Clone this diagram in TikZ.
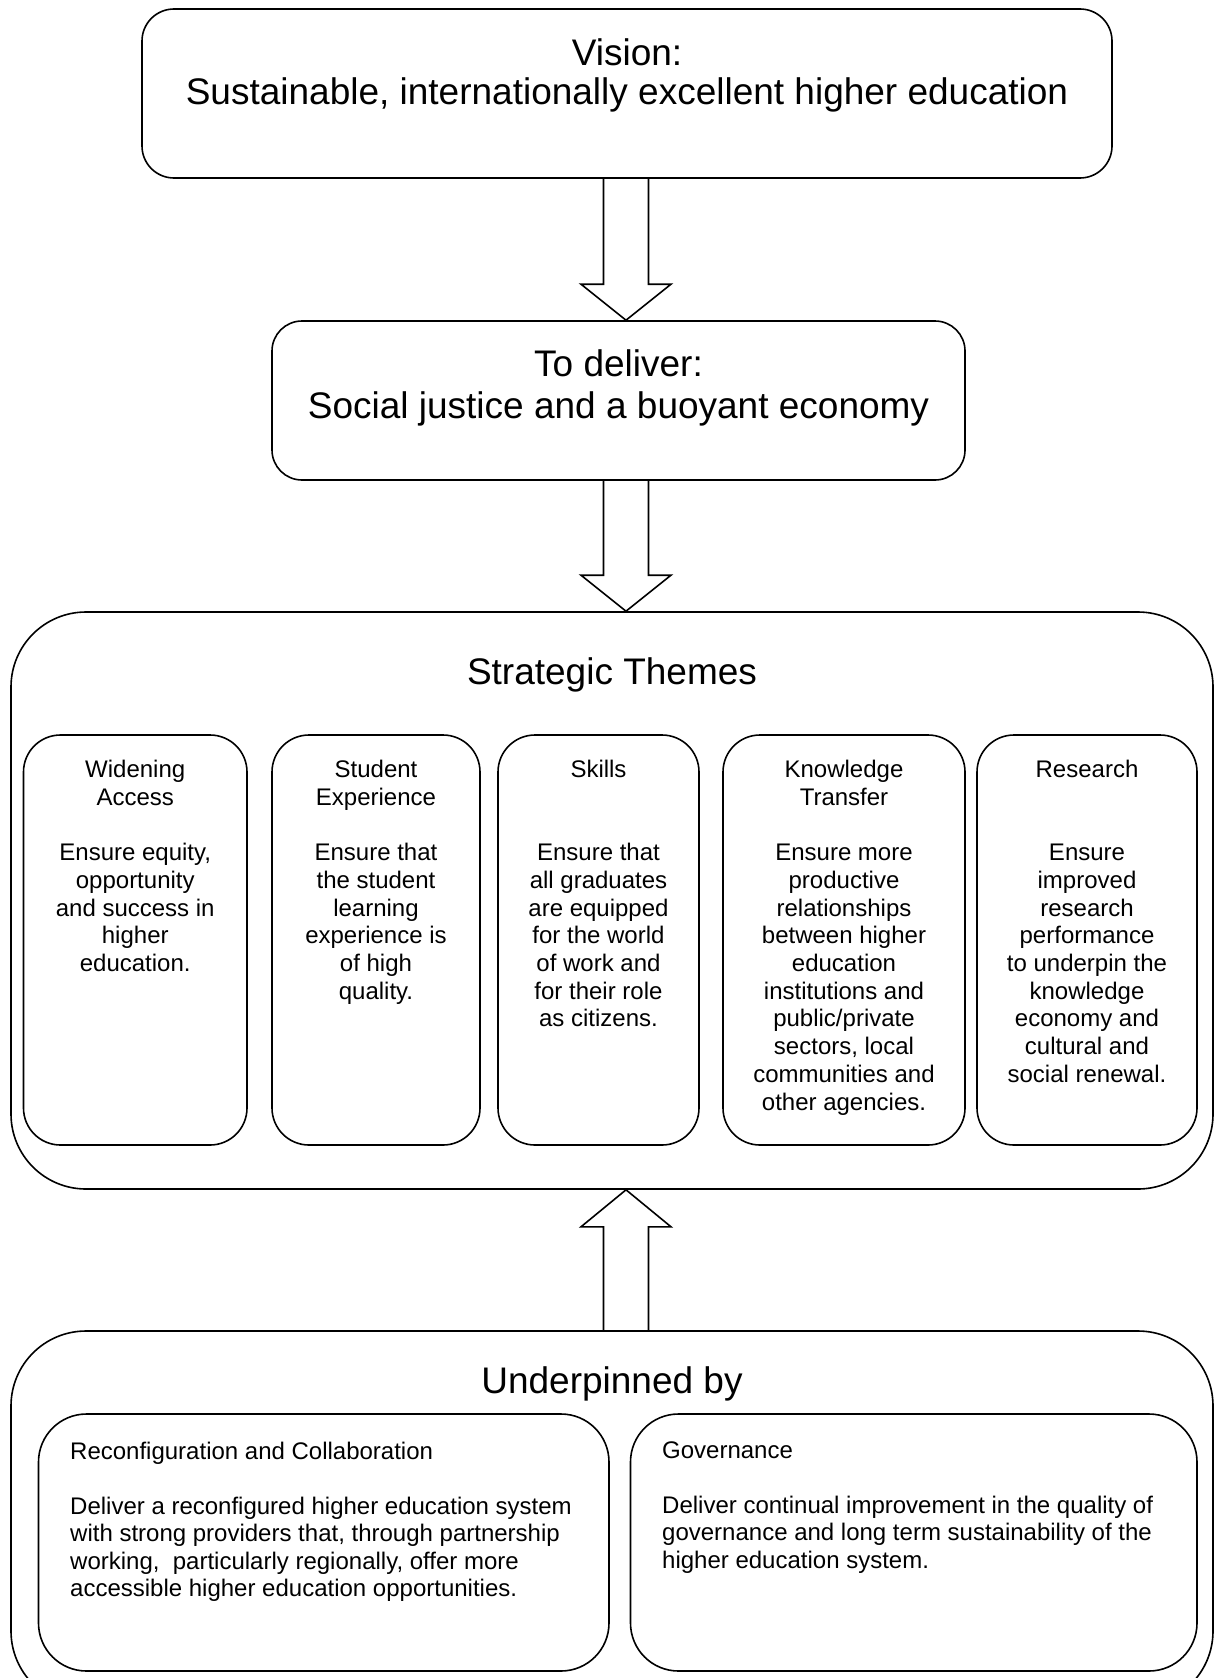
\documentclass[tikz,border=0pt]{standalone}
\usepackage{fontspec}
\setmainfont{Liberation Sans}
\usetikzlibrary{calc}
\tikzset{
  box/.style={draw, line width=1.6pt, rounded corners=#1, inner sep=0pt, minimum height=10pt},
  arr/.style={draw, line width=1.6pt, line join=miter},
  head/.style={inner sep=0pt, align=center, font=\fontsize{37}{42}\selectfont},
  body/.style={inner sep=0pt, align=center, font=\fontsize{24}{27.7}\selectfont},
  bodyl/.style={inner sep=0pt, align=left, font=\fontsize{24}{27.5}\selectfont},
}
\newcommand{\blkarrow}[3]{%
  \draw[arr] let \p1=(#1), \p2=(#2) in
  ({\x1-22.5pt},\y1) -- ({\x1-22.5pt},{\y2+#3}) -- ({\x1-45pt},{\y2+#3}) -- (\x2,\y2)
  -- ({\x1+45pt},{\y2+#3}) -- ({\x1+22.5pt},{\y2+#3}) -- ({\x1+22.5pt},\y1);}
\begin{document}
\begin{tikzpicture}[x=1pt,y=-1pt]
\useasboundingbox (0,0) rectangle (1214,1678);
% main boxes
\node[box=32pt, minimum width=970pt, minimum height=169pt] (vision) at (627,93.5) {};
\node[box=30pt, minimum width=693pt, minimum height=159pt] (deliver) at (618.5,400.5) {};
\node[box=75pt, minimum width=1202pt, minimum height=577pt] (themes) at (612,900.5) {};
\node[box=75pt, minimum width=1202pt, minimum height=375pt] (under) at (612,1518.5) {};
% texts of main boxes
\node[head, anchor=north, font=\fontsize{37}{39.5}\selectfont] (visiontxt) at (627,38) {Vision:\\Sustainable, internationally excellent higher education};
\node[head, anchor=north] (delivertxt) at (618.5,349) {To deliver:\\Social justice and a buoyant economy};
\node[head, anchor=north] (themestxt) at (612,657) {Strategic Themes};
\node[head, anchor=north] (undertxt) at (612,1366.5) {Underpinned by};
% theme boxes
\node[box=37pt, minimum width=223.5pt, minimum height=410pt] (t1) at (135.25,940) {};
\node[box=37pt, minimum width=208pt, minimum height=410pt] (t2) at (376,940) {};
\node[box=37pt, minimum width=201pt, minimum height=410pt] (t3) at (598.5,940) {};
\node[box=37pt, minimum width=242pt, minimum height=410pt] (t4) at (844,940) {};
\node[box=37pt, minimum width=220pt, minimum height=410pt] (t5) at (1087,940) {};
\node[body, anchor=north] (t1txt) at (135.25,760) {Widening\\Access\\\mbox{}\\Ensure equity,\\opportunity\\and success in\\higher\\education.};
\node[body, anchor=north] (t2txt) at (376,760) {Student\\Experience\\\mbox{}\\Ensure that\\the student\\learning\\experience is\\of high\\quality.};
\node[body, anchor=north] (t3txt) at (598.5,760) {Skills\\\mbox{}\\\mbox{}\\Ensure that\\all graduates\\are equipped\\for the world\\of work and\\for their role\\as citizens.};
\node[body, anchor=north] (t4txt) at (844,760) {Knowledge\\Transfer\\\mbox{}\\Ensure more\\productive\\relationships\\between higher\\education\\institutions and\\public/private\\sectors, local\\communities and\\other agencies.};
\node[body, anchor=north] (t5txt) at (1087,760) {Research\\\mbox{}\\\mbox{}\\Ensure\\improved\\research\\performance\\to underpin the\\knowledge\\economy and\\cultural and\\social renewal.};
% underpinning boxes
\node[box=48pt, minimum width=570.5pt, minimum height=257pt] (u1) at (323.75,1542.5) {};
\node[box=48pt, minimum width=566.5pt, minimum height=257pt] (u2) at (913.75,1542.5) {};
\node[bodyl, anchor=north west] (u1txt) at (70,1441.5) {Reconfiguration and Collaboration\\\mbox{}\\Deliver a reconfigured higher education system\\with strong providers that, through partnership\\working,\ \ particularly regionally, offer more\\accessible higher education opportunities.};
\node[bodyl, anchor=north west] (u2txt) at (662,1441.5) {Governance\\\mbox{}\\Deliver continual improvement in the quality of\\governance and long term sustainability of the\\higher education system.};
% block arrows
\coordinate (ax) at (626,0);
\coordinate (a1s) at (vision.south -| ax);
\coordinate (a1e) at (deliver.north -| ax);
\coordinate (a2s) at (deliver.south -| ax);
\coordinate (a2e) at (themes.north -| ax);
\coordinate (a3s) at (under.north -| ax);
\coordinate (a3e) at (themes.south -| ax);
\blkarrow{a1s}{a1e}{36pt}
\blkarrow{a2s}{a2e}{36pt}
\blkarrow{a3s}{a3e}{-37pt}
\end{tikzpicture}
\end{document}
